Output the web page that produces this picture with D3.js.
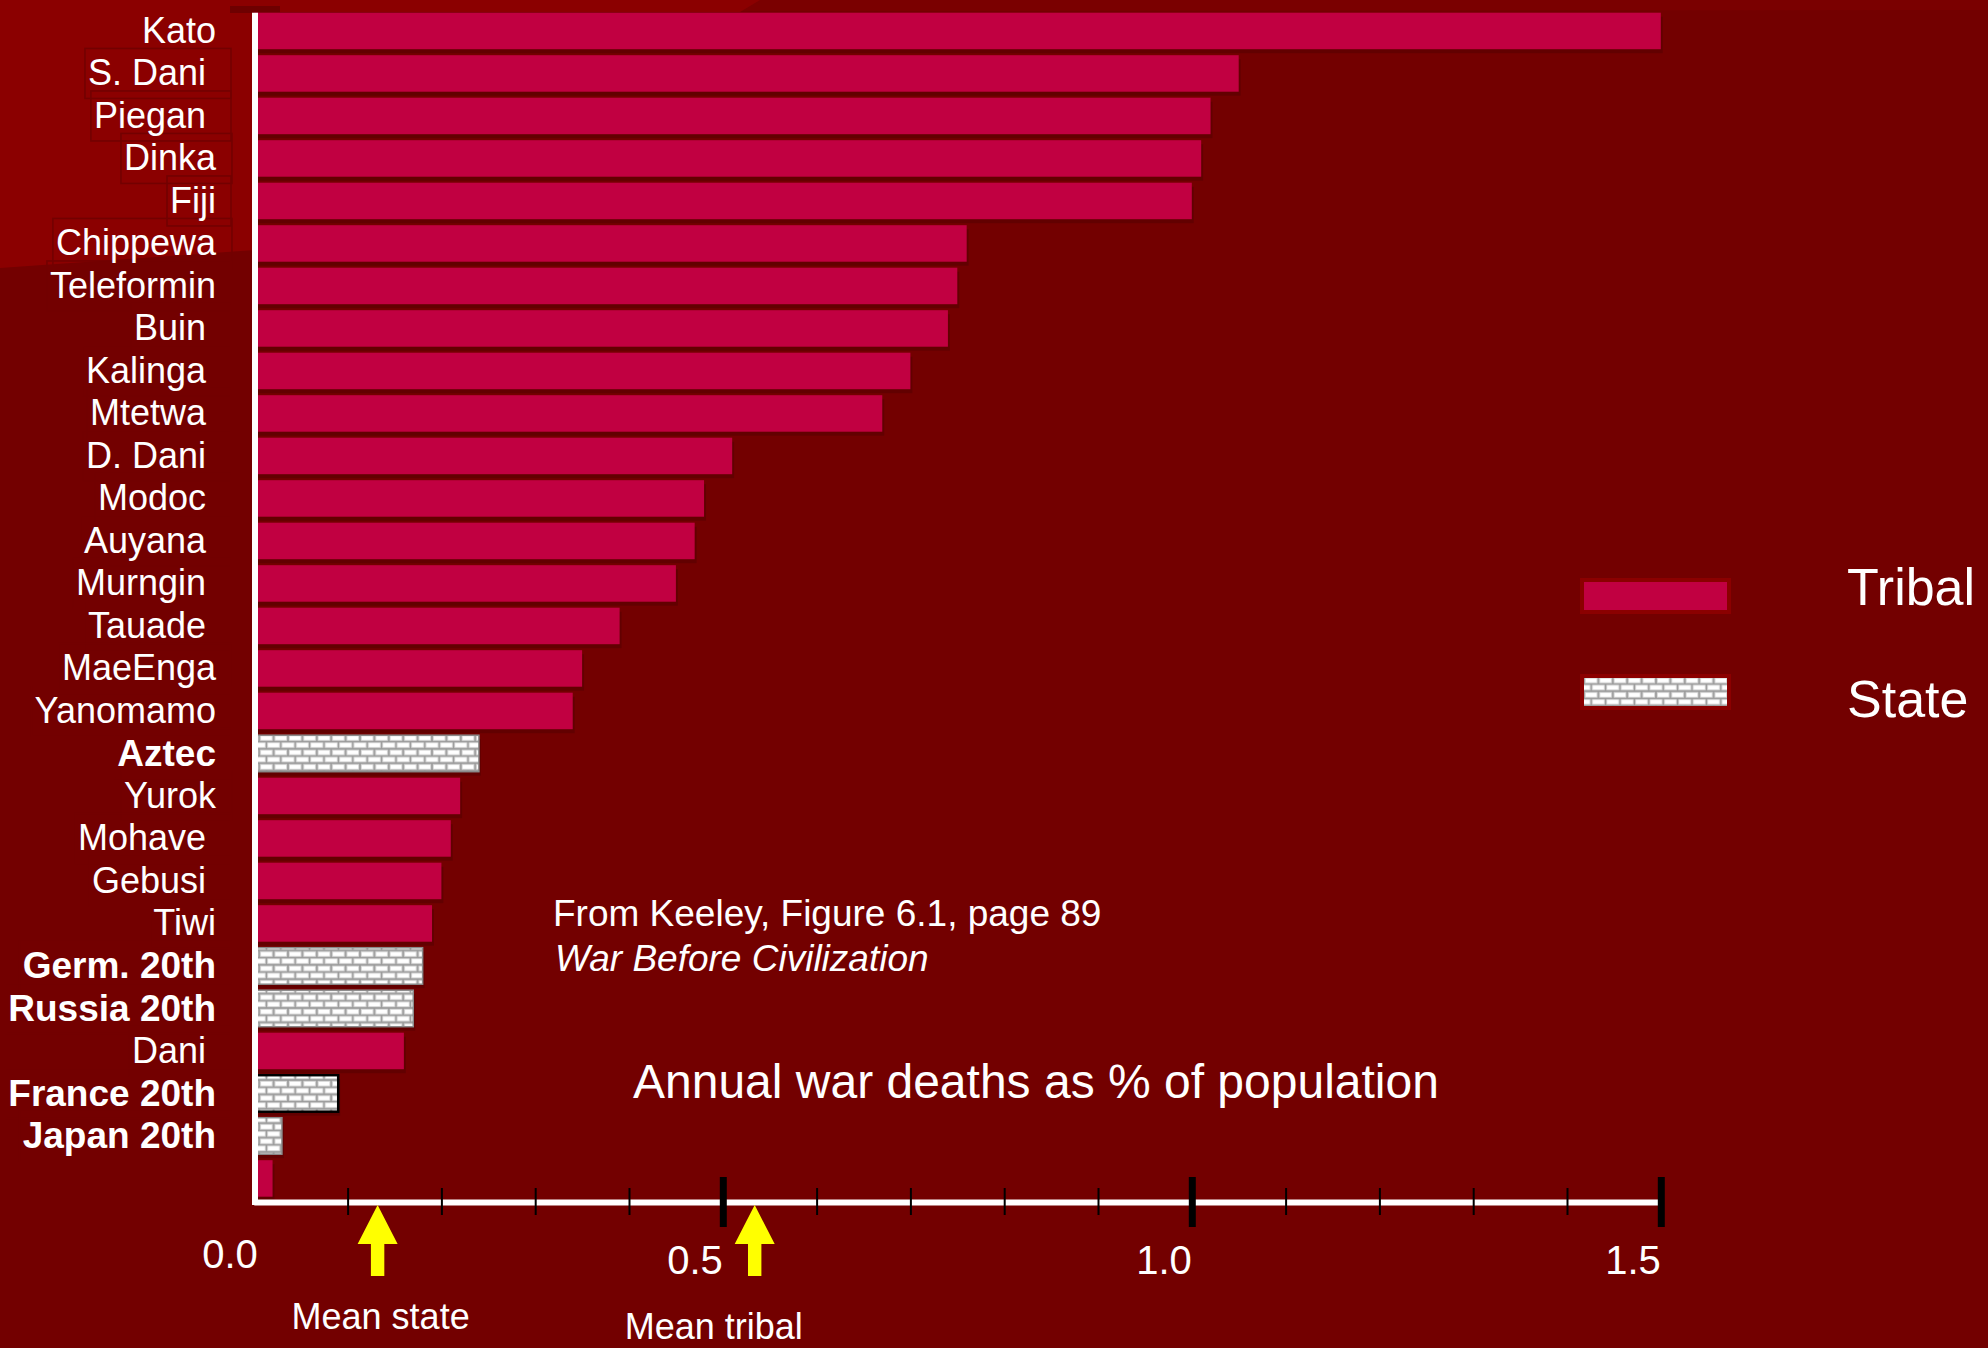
<!DOCTYPE html>
<html>
<head>
<meta charset="utf-8">
<script src="https://cdn.jsdelivr.net/npm/d3@7"></script>
<style>
  html, body { margin: 0; padding: 0; background: #730000; }
  svg { display: block; }
  text { font-family: "Liberation Sans", Arial, Helvetica, sans-serif; fill: #ffffff; }
</style>
</head>
<body>
<svg id="chart" width="1988" height="1348"></svg>
<script>
// Societies, top to bottom (trailing spaces are part of the label text boxes)
const categories = [
  "Kato", "S. Dani ", "Piegan ", "Dinka", "Fiji", "Chippewa", "Teleformin",
  "Buin ", "Kalinga ", "Mtetwa ", "D. Dani ", "Modoc ", "Auyana ", "Murngin ",
  "Tauade ", "MaeEnga", "Yanomamo", "Aztec", "Yurok", "Mohave ", "Gebusi ",
  "Tiwi", "Germ. 20th", "Russia 20th", "Dani ", "France 20th", "Japan 20th", ""
];
// Kind of society for each bar
const groups = [
  "tribal", "tribal", "tribal", "tribal", "tribal", "tribal", "tribal",
  "tribal", "tribal", "tribal", "tribal", "tribal", "tribal", "tribal",
  "tribal", "tribal", "tribal", "state", "tribal", "tribal", "tribal",
  "tribal", "state", "state", "tribal", "state", "state", "tribal"
];
// Annual war deaths, % of population
const deaths = [
  1.50, 1.05, 1.02, 1.01, 1.00, 0.76, 0.75,
  0.74, 0.70, 0.67, 0.51, 0.48, 0.47, 0.45,
  0.39, 0.35, 0.34, 0.24, 0.22, 0.21, 0.20,
  0.19, 0.18, 0.17, 0.16, 0.09, 0.03, 0.02
];
const axisTickValues = [0, 0.5, 1.0, 1.5];
const axisTickLabels = ["0.0", "0.5", "1.0", "1.5"];
const meanLabels = ["Mean state", "Mean tribal"];
const meanValues = [0.132, 0.534];
const legendLabels = ["Tribal", "State"];
const sourceLines = ["From Keeley, Figure 6.1, page 89", "War Before Civilization"];
const axisTitle = "Annual war deaths as % of population";

const W = 1988, H = 1348;
const PINK = "#C10041";
const svg = d3.select("#chart");

// ---- brick fill for state societies ----
const defs = svg.append("defs");
const bw = 14.4, bh = 14.4;
const brick = defs.append("pattern")
  .attr("id", "brick")
  .attr("patternUnits", "userSpaceOnUse")
  .attr("width", bw).attr("height", bh);
brick.append("rect").attr("width", bw).attr("height", bh).attr("fill", "#9a9a9a");
[[1.2, 1.2], [-6.0, 8.4], [8.4, 8.4]].forEach(([bx, by]) => {
  brick.append("rect")
    .attr("x", bx).attr("y", by).attr("width", 12).attr("height", 4.8)
    .attr("fill", "#ffffff").attr("stroke", "#d4d4d4").attr("stroke-width", 0.8);
});

// ---- background ----
svg.append("rect").attr("width", W).attr("height", H).attr("fill", "#730000");
svg.append("polygon")
  .attr("points", "0,0 1988,0 1988,10 0,12")
  .attr("fill", "#7a0000");
svg.append("polygon")
  .attr("points", "0,0 760,0 740,12 255,12 255,250 0,268")
  .attr("fill", "#8B0000");
svg.append("rect").attr("x", 230).attr("y", 6).attr("width", 50).attr("height", 7)
  .attr("fill", "#6e0000");

// ---- scales ----
const x = d3.scaleLinear().domain([0, 1.5]).range([253.8, 1660.8]);
const y = d3.scaleBand()
  .domain(d3.range(categories.length))
  .range([12.7, 1196.7])
  .paddingInner(0.141)
  .paddingOuter(0);
const axisY = 1202;

const rows = categories.map((name, i) => ({ i, name, group: groups[i], value: deaths[i] }));

// ---- bars ----
const barG = svg.append("g");
barG.selectAll("rect.shadow")
  .data(rows)
  .join("rect")
  .attr("class", "shadow")
  .attr("x", x(0) + 2)
  .attr("y", d => y(d.i) + 4)
  .attr("width", d => x(d.value) - x(0))
  .attr("height", y.bandwidth())
  .attr("fill", "#000").attr("opacity", 0.14);

barG.selectAll("rect.bar")
  .data(rows)
  .join("rect")
  .attr("class", "bar")
  .attr("x", x(0))
  .attr("y", d => y(d.i))
  .attr("width", d => x(d.value) - x(0))
  .attr("height", y.bandwidth())
  .attr("fill", d => d.group === "state" ? "url(#brick)" : PINK)
  .attr("stroke", d => d.group === "state" ? (d.name.startsWith("France") ? "#000" : "#8a8a8a") : "none")
  .attr("stroke-width", d => d.name.startsWith("France") ? 2.5 : 1.5);

// ---- category labels with their text-box outlines ----
const labelG = svg.append("g");
const labels = labelG.selectAll("text")
  .data(rows)
  .join("text")
  .attr("x", 216)
  .attr("y", d => y(d.i) + y.bandwidth() / 2)
  .attr("dy", "0.33em")
  .attr("text-anchor", "end")
  .style("white-space", "pre")
  .attr("font-size", d => d.group === "state" ? 37 : 36)
  .attr("font-weight", d => d.group === "state" ? "bold" : "normal")
  .text(d => d.name);

labels.each(function (d) {
  if (d.i === 0 || !d.name) return;
  const b = this.getBBox();
  labelG.insert("rect", "text")
    .attr("x", b.x - 3)
    .attr("y", y(d.i) + y.bandwidth() / 2 - 25)
    .attr("width", b.width + 18)
    .attr("height", 50)
    .attr("fill", "none")
    .attr("stroke", "#730000")
    .attr("stroke-width", 1.6);
});

// ---- axes ----
svg.append("line")
  .attr("x1", 255).attr("x2", 255)
  .attr("y1", y.range()[0]).attr("y2", axisY + 3)
  .attr("stroke", "#fff").attr("stroke-width", 6);

const xAxis = d3.axisBottom(x)
  .tickValues(d3.range(1, 16).map(k => k / 10))
  .tickSizeInner(0).tickSizeOuter(0)
  .tickFormat("");
const xg = svg.append("g").attr("transform", `translate(0,${axisY})`).call(xAxis);
xg.select(".domain").attr("stroke", "#fff").attr("stroke-width", 6);
xg.selectAll(".tick line")
  .each(function (v) {
    const major = Math.abs(v * 2 - Math.round(v * 2)) < 1e-6;
    d3.select(this)
      .attr("y1", major ? -25 : -14)
      .attr("y2", major ? 25 : 13)
      .attr("stroke", "#000")
      .attr("stroke-width", major ? 7 : 2);
  });

svg.append("g").selectAll("text")
  .data(axisTickValues)
  .join("text")
  .attr("x", v => x(v) + (v === 0 ? 4 : 0))
  .attr("y", v => v === 0 ? 1268 : 1274)
  .attr("text-anchor", "end")
  .attr("font-size", 40)
  .text((v, i) => axisTickLabels[i]);

// ---- mean markers (yellow arrows) ----
const arrowG = svg.append("g");
meanValues.forEach((m, i) => {
  const cx = x(m);
  const tip = axisY + 3, head = axisY + 42, bottom = axisY + 74;
  const hw = 20, sw = 6.7;
  arrowG.append("path")
    .attr("d", `M${cx},${tip} L${cx + hw},${head} L${cx + sw},${head} L${cx + sw},${bottom}` +
               ` L${cx - sw},${bottom} L${cx - sw},${head} L${cx - hw},${head} Z`)
    .attr("fill", "#FFFF00");
  arrowG.append("text")
    .attr("x", i === 0 ? cx + 3 : cx - 41)
    .attr("y", i === 0 ? 1329 : 1339)
    .attr("text-anchor", "middle")
    .attr("font-size", 36)
    .text(meanLabels[i]);
});

// ---- legend ----
const legend = svg.append("g");
legendLabels.forEach((lab, i) => {
  legend.append("rect")
    .attr("x", 1582).attr("y", 580 + i * 96).attr("width", 147).attr("height", 32)
    .attr("fill", i === 0 ? PINK : "url(#brick)")
    .attr("stroke", "#8B0000").attr("stroke-width", 4);
  legend.append("text")
    .attr("x", 1847).attr("y", 605 + i * 112)
    .attr("font-size", 52)
    .text(lab);
});

// ---- source note and axis title ----
svg.append("text")
  .attr("x", 553).attr("y", 926)
  .attr("font-size", 37)
  .text(sourceLines[0]);
svg.append("text")
  .attr("x", 555).attr("y", 971)
  .attr("font-size", 37).attr("font-style", "italic")
  .text(sourceLines[1]);
svg.append("text")
  .attr("x", 633).attr("y", 1098)
  .attr("font-size", 48)
  .text(axisTitle);
</script>
</body>
</html>
